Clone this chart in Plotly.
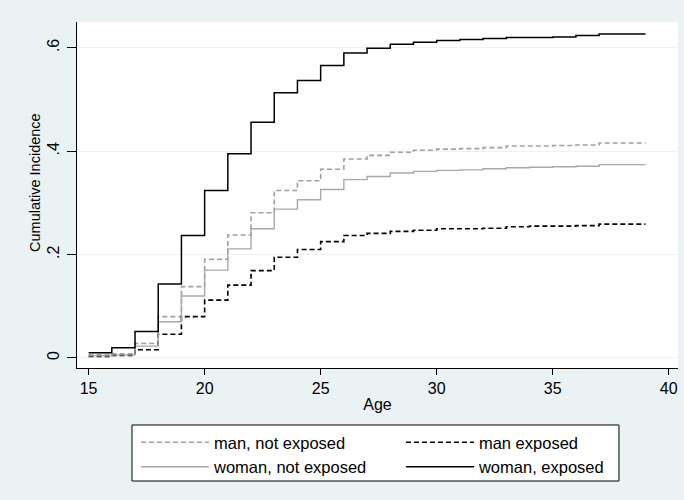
import plotly.graph_objects as go

ages = list(range(15, 40))

man_not_exposed = [0.006, 0.008, 0.028, 0.080, 0.138, 0.191, 0.238, 0.281, 0.324, 0.343,
                   0.365, 0.385, 0.392, 0.398, 0.402, 0.404, 0.405, 0.407, 0.410, 0.410,
                   0.411, 0.412, 0.416, 0.416, 0.416]
man_exposed = [0.003, 0.005, 0.016, 0.046, 0.080, 0.112, 0.141, 0.169, 0.195, 0.210,
               0.225, 0.237, 0.241, 0.245, 0.247, 0.250, 0.250, 0.251, 0.254, 0.255,
               0.255, 0.256, 0.259, 0.259, 0.259]
woman_not_exposed = [0.004, 0.006, 0.023, 0.070, 0.120, 0.170, 0.211, 0.250, 0.288, 0.306,
                     0.326, 0.345, 0.351, 0.358, 0.361, 0.363, 0.364, 0.366, 0.368, 0.369,
                     0.370, 0.371, 0.374, 0.374, 0.374]
woman_exposed = [0.010, 0.020, 0.051, 0.143, 0.237, 0.324, 0.395, 0.456, 0.513, 0.537,
                 0.566, 0.590, 0.599, 0.607, 0.611, 0.614, 0.616, 0.618, 0.620, 0.620,
                 0.621, 0.624, 0.627, 0.627, 0.627]

series_names = ["man, not exposed", "man exposed", "woman, not exposed", "woman, exposed"]
series_values = [man_not_exposed, man_exposed, woman_not_exposed, woman_exposed]
series_styles = [
    dict(color="#A0A0A0", width=1.6, dash="5px,3px"),
    dict(color="#000000", width=1.6, dash="5px,3px"),
    dict(color="#A8A8A8", width=1.4, dash="solid"),
    dict(color="#000000", width=1.5, dash="solid"),
]
series_legends = ["legend", "legend2", "legend", "legend2"]

x_ticks = [15, 20, 25, 30, 35, 40]
y_ticks = [0, 0.2, 0.4, 0.6]
y_tick_labels = ["0", ".2", ".4", ".6"]

fig = go.Figure()
for name, vals, style, lg in zip(series_names, series_values, series_styles, series_legends):
    fig.add_trace(go.Scatter(x=ages, y=vals, mode="lines", name=name, legend=lg,
                             line=dict(shape="hv", **style)))

font_family = "Liberation Sans, Arial, sans-serif"
legend_common = dict(
    orientation="v", y=-0.165, xanchor="left", yanchor="top",
    bgcolor="rgba(0,0,0,0)", borderwidth=0,
    font=dict(size=16.5, family=font_family),
    itemwidth=68, tracegroupgap=0,
)

# white legend frame drawn behind the two legend columns
fig.add_shape(type="rect", xref="paper", yref="paper",
              x0=0.0915, x1=0.9018, y0=-0.3266, y1=-0.1647,
              fillcolor="#FFFFFF", line=dict(color="#000000", width=1), layer="above")

# y-axis title
fig.add_annotation(text="Cumulative Incidence", textangle=-90,
                   xref="paper", yref="paper", x=-0.0699, y=0.5376,
                   xanchor="center", yanchor="middle", showarrow=False,
                   font=dict(size=14.5, family=font_family, color="#000000"))

fig.update_layout(
    width=684, height=500,
    paper_bgcolor="#EAF2F3",
    plot_bgcolor="#FFFFFF",
    margin=dict(l=77, r=6, t=22, b=132, autoexpand=False),
    font=dict(family=font_family, color="#000000", size=16),
    showlegend=True,
    legend=dict(x=0.0982, **legend_common),
    legend2=dict(x=0.539, **legend_common),
    xaxis=dict(
        range=[14.5, 40.4],
        tickvals=x_ticks,
        ticks="outside", ticklen=6, tickcolor="#000000",
        ticklabelstandoff=0,
        showline=True, linecolor="#000000", linewidth=1,
        showgrid=False, zeroline=False, automargin=False,
        tickfont=dict(size=16),
        title=dict(text="Age", font=dict(size=16), standoff=2),
    ),
    yaxis=dict(
        range=[-0.0194, 0.650],
        tickvals=y_ticks, ticktext=y_tick_labels,
        tickangle=-90,
        ticks="outside", ticklen=9, tickcolor="#000000",
        ticklabelstandoff=2,
        showline=True, linecolor="#000000", linewidth=1,
        showgrid=True, gridcolor="#EAF2F3", gridwidth=1,
        zeroline=False, automargin=False,
        tickfont=dict(size=16),
    ),
)

fig.write_html("out.html", config={"displayModeBar": False},
               post_script="document.body.style.margin='0';")
